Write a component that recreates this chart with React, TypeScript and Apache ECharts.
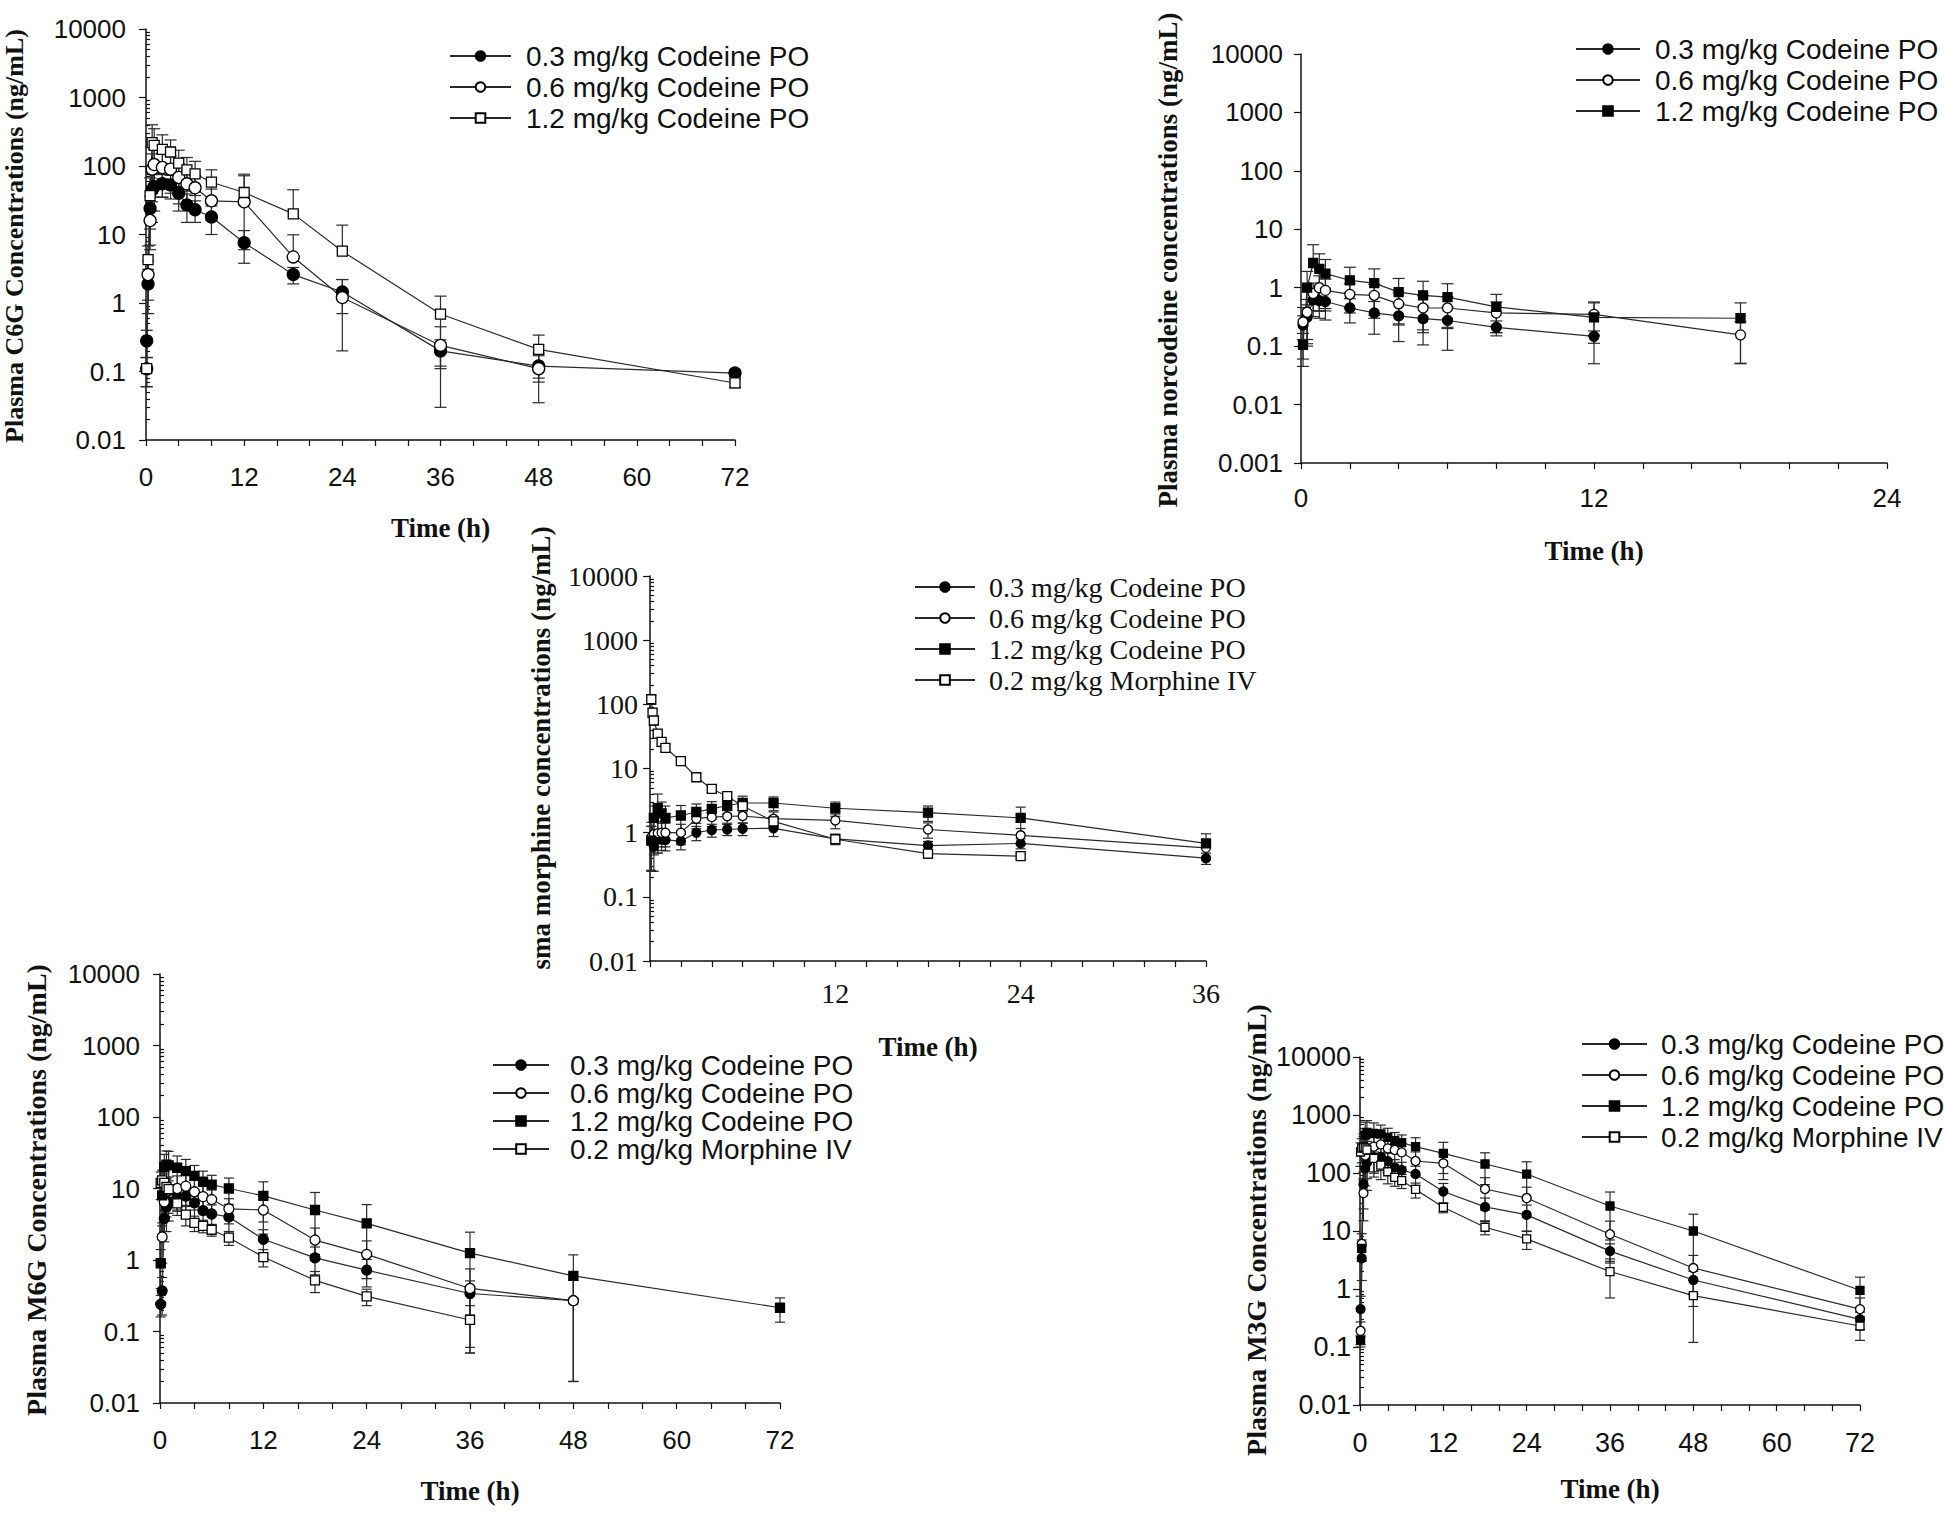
import React, { useEffect, useRef } from "react";
import * as echarts from "echarts";

// ---------------- DATA ----------------
// Panel A: C6G
const C6G_TIME = [0.083, 0.25, 0.5, 0.75, 1, 2, 3, 4, 5, 6, 8, 12, 18, 24, 36, 48, 72];
const C6G_TIME_06 = [0.083, 0.25, 0.5, 0.75, 1, 2, 3, 4, 5, 6, 8, 12, 18, 24, 36, 48];
const C6G_03 = [0.28, 1.9, 24, 45, 50, 55, 53, 40, 27, 23, 18, 7.6, 2.6, 1.45, 0.2, 0.12, 0.095];
const C6G_03_SD = [0.12, 1.2, 12, 30, 28, 20, 20, 18, 12, 8, 8, 3.8, 0.7, 0.75, 0.09, 0.05, 0.01];
const C6G_06 = [0.11, 2.6, 16, 90, 105, 95, 90, 68, 55, 48, 31, 30, 4.7, 1.2, 0.24, 0.11];
const C6G_06_SD = [0.05, 1.5, 10, 60, 70, 60, 50, 40, 30, 25, 15, 42, 5.2, 1.0, 0.21, 0.075];
const C6G_12 = [0.11, 4.3, 37, 220, 200, 175, 160, 110, 88, 77, 58, 41, 20, 5.7, 0.69, 0.21, 0.068];
const C6G_12_SD = [0.05, 2.5, 30, 180, 150, 110, 80, 60, 45, 40, 30, 35, 25, 8, 0.57, 0.13, 0.01];

// Panel B: norcodeine
const NOR_TIME_03 = [0.083, 0.25, 0.5, 0.75, 1, 2, 3, 4, 5, 6, 8, 12];
const NOR_TIME = [0.083, 0.25, 0.5, 0.75, 1, 2, 3, 4, 5, 6, 8, 12, 18];
const NOR_03 = [0.23, 0.31, 0.62, 0.6, 0.58, 0.45, 0.37, 0.33, 0.295, 0.275, 0.21, 0.147];
const NOR_03_SD = [0.1, 0.2, 0.3, 0.3, 0.3, 0.2, 0.21, 0.21, 0.19, 0.19, 0.06, 0.035];
const NOR_06 = [0.26, 0.38, 0.8, 1.0, 0.9, 0.77, 0.74, 0.53, 0.45, 0.45, 0.37, 0.35, 0.156];
const NOR_06_SD = [0.2, 0.25, 0.4, 0.6, 0.5, 0.4, 0.4, 0.3, 0.28, 0.25, 0.2, 0.2, 0.105];
const NOR_12 = [0.105, 1.0, 2.65, 2.1, 1.74, 1.34, 1.2, 0.84, 0.74, 0.69, 0.47, 0.31, 0.3];
const NOR_12_SD = [0.06, 0.9, 2.8, 1.7, 1.3, 0.9, 0.9, 0.6, 0.55, 0.48, 0.3, 0.26, 0.25];

// Panel C: morphine
const MOR_TIME = [0.083, 0.25, 0.5, 0.75, 1, 2, 3, 4, 5, 6, 8, 12, 18, 24, 36];
const MOR_IV_TIME = [0.083, 0.167, 0.25, 0.5, 0.75, 1, 2, 3, 4, 5, 6, 8, 12, 18, 24];
const MOR_03 = [0.76, 0.6, 0.78, 0.78, 0.77, 0.74, 1.0, 1.1, 1.12, 1.15, 1.17, 0.8, 0.63, 0.68, 0.4];
const MOR_03_SD = [0.5, 0.35, 0.3, 0.25, 0.25, 0.2, 0.25, 0.25, 0.22, 0.25, 0.3, 0.15, 0.1, 0.12, 0.08];
const MOR_06 = [0.85, 0.95, 0.98, 1.0, 1.0, 1.0, 1.65, 1.75, 1.8, 1.82, 1.65, 1.55, 1.12, 0.91, 0.58];
const MOR_06_SD = [0.6, 0.5, 0.5, 0.4, 0.4, 0.35, 0.5, 0.5, 0.4, 0.4, 0.45, 0.4, 0.3, 0.25, 0.2];
const MOR_12 = [0.75, 1.7, 2.4, 2.0, 1.7, 1.85, 2.1, 2.35, 2.65, 2.9, 2.9, 2.4, 2.05, 1.7, 0.68];
const MOR_12_SD = [0.5, 0.9, 1.6, 1.0, 0.9, 0.8, 0.7, 0.7, 0.7, 0.8, 0.7, 0.6, 0.55, 0.8, 0.28];
const MOR_IV = [120, 74, 56, 35, 26, 21, 13, 7.3, 4.8, 3.7, 2.6, 1.5, 0.79, 0.47, 0.43];
const MOR_IV_SD = [20, 12, 8, 5, 4, 3, 1.5, 0.9, 0.6, 0.45, 0.35, 0.25, 0.1, 0.07, 0.04];

// Panel D: M6G
const M6G_TIME = [0.083, 0.25, 0.5, 0.75, 1, 2, 3, 4, 5, 6, 8, 12, 18, 24, 36, 48, 72];
const M6G_TIME_03 = [0.083, 0.25, 0.5, 0.75, 1, 2, 3, 4, 5, 6, 8, 12, 18, 24, 36, 48];
const M6G_TIME_06 = [0.25, 0.5, 0.75, 1, 2, 3, 4, 5, 6, 8, 12, 18, 24, 36, 48];
const M6G_TIME_IV = [0.083, 0.25, 0.5, 0.75, 1, 2, 3, 4, 5, 6, 8, 12, 18, 24, 36];
const M6G_03 = [0.24, 0.37, 3.8, 5.5, 6.5, 7.8, 7.8, 6.3, 4.9, 4.4, 4.0, 1.95, 1.07, 0.72, 0.34, 0.27];
const M6G_03_SD = [0.08, 0.2, 2, 3, 3, 3, 3, 2.5, 2, 1.5, 1.5, 0.7, 0.45, 0.3, 0.17, 0.25];
const M6G_06 = [2.1, 6.5, 9, 9.5, 10, 10.8, 9, 7.7, 7, 5.2, 5.0, 1.9, 1.2, 0.4, 0.27];
const M6G_06_SD = [1.2, 4, 5, 5, 5, 5, 4, 3, 2.5, 2, 2.7, 0.9, 0.65, 0.35, 0.25];
const M6G_12 = [0.9, 8, 20, 21.5, 21, 19.5, 17.5, 15, 12.5, 11.3, 10, 7.9, 5.0, 3.25, 1.25, 0.6, 0.215];
const M6G_12_SD = [0.5, 5, 10, 12, 12, 9, 8, 6, 5, 4, 4, 4.5, 3.8, 2.7, 1.2, 0.58, 0.08];
const M6G_IV = [12, 13, 12, 10.5, 9.8, 6.2, 4.3, 3.3, 3.0, 2.65, 2.05, 1.1, 0.52, 0.31, 0.145];
const M6G_IV_SD = [5, 5, 4, 3, 3, 2, 1.3, 0.8, 0.6, 0.5, 0.45, 0.3, 0.17, 0.08, 0.085];

// Panel E: M3G
const M3G_TIME = [0.083, 0.25, 0.5, 0.75, 1, 2, 3, 4, 5, 6, 8, 12, 18, 24, 36, 48, 72];
const M3G_03 = [0.45, 3.4, 64, 120, 150, 185, 190, 160, 125, 113, 96, 48, 26, 19, 4.5, 1.43, 0.3];
const M3G_03_SD = [0.3, 2, 40, 60, 70, 80, 80, 60, 45, 40, 35, 18, 11, 9, 1.5, 0.6, 0.1];
const M3G_06 = [0.19, 6, 45, 200, 250, 285, 312, 266, 250, 227, 161, 147, 53, 37, 8.8, 2.3, 0.45];
const M3G_06_SD = [0.08, 3, 30, 150, 200, 200, 180, 150, 120, 100, 70, 70, 30, 20, 6, 1.5, 0.25];
const M3G_12 = [0.13, 5, 280, 450, 500, 480, 470, 410, 360, 333, 285, 218, 143, 96, 27, 10, 0.95];
const M3G_12_SD = [0.03, 2, 200, 300, 300, 250, 200, 180, 140, 120, 120, 120, 80, 60, 20, 9.5, 0.65];
const M3G_IV = [230, 270, 280, 270, 250, 179, 137, 105, 84, 74, 52, 25.6, 11.6, 7.3, 2.0, 0.77, 0.23];
const M3G_IV_SD = [100, 120, 150, 120, 100, 80, 60, 40, 25, 20, 15, 5, 3, 2.5, 1.3, 0.65, 0.1];

const N03 = "0.3 mg/kg Codeine PO";
const N06 = "0.6 mg/kg Codeine PO";
const N12 = "1.2 mg/kg Codeine PO";
const NIV = "0.2 mg/kg Morphine IV";

const Y_TITLES = [
  "Plasma C6G Concentrations (ng/mL)",
  "Plasma norcodeine concentrations (ng/mL)",
  "sma morphine concentrations (ng/mL)",
  "Plasma M6G Concentrations (ng/mL)",
  "Plasma M3G Concentrations (ng/mL)",
];
const X_TITLE = "Time (h)";

// ---------------- STYLE / LAYOUT ----------------
const SANS = "'Liberation Sans', Arial, sans-serif";
const SERIF = "'Liberation Serif', 'Times New Roman', serif";
const INK = "#111";
const LINE = "#2a2a2a";

const PANELS = [
  { grid: { left: 146, top: 29, width: 589, height: 411 }, ymin: 0.01, ymax: 10000, xmax: 72, xint: 4, minor: true, font: SANS, tick: 26, yMargin: 20, xMargin: 24, nameGap: 74, hideZero: false, circle: 12, square: 10, cap: 12,
    legend: { left: 449, top: 42, w: 61, gap: 3, pad: 10, font: 28 }, title: { x: 14, y: 236, size: 26 } },
  { grid: { left: 1301, top: 54, width: 586, height: 409 }, ymin: 0.001, ymax: 10000, xmax: 24, xint: 2, minor: false, font: SANS, tick: 26, yMargin: 18, xMargin: 22, nameGap: 74, hideZero: false, circle: 10, square: 9, cap: 12,
    legend: { left: 1575, top: 35, w: 64, gap: 3, pad: 10, font: 28 }, title: { x: 1168, y: 260, size: 27 } },
  { grid: { left: 650, top: 576, width: 556, height: 385 }, ymin: 0.01, ymax: 10000, xmax: 36, xint: 2, minor: true, font: SERIF, tick: 28, yMargin: 12, xMargin: 18, nameGap: 72, hideZero: true, circle: 9, square: 9, cap: 10,
    legend: { left: 914, top: 573, w: 60, gap: 3, pad: 9, font: 28 }, title: { x: 541, y: 748, size: 27 } },
  { grid: { left: 160, top: 974, width: 620, height: 429 }, ymin: 0.01, ymax: 10000, xmax: 72, xint: 4, minor: true, font: SANS, tick: 26, yMargin: 20, xMargin: 24, nameGap: 74, hideZero: false, circle: 10, square: 9, cap: 10,
    legend: { left: 492, top: 1051, w: 56, gap: 0, pad: 16, font: 28 }, title: { x: 36, y: 1190, size: 28 } },
  { grid: { left: 1360, top: 1057, width: 500, height: 348 }, ymin: 0.01, ymax: 10000, xmax: 72, xint: 4, minor: true, font: SANS, tick: 27, yMargin: 9, xMargin: 24, nameGap: 70, hideZero: false, circle: 9, square: 8, cap: 10,
    legend: { left: 1581, top: 1030, w: 65, gap: 3, pad: 9, font: 28 }, title: { x: 1256, y: 1230, size: 28 } },
];

const SERIES_DEFS = [
  { panel: 0, name: N03, t: C6G_TIME, v: C6G_03, sd: C6G_03_SD, sym: "circle", fill: true },
  { panel: 0, name: N06, t: C6G_TIME_06, v: C6G_06, sd: C6G_06_SD, sym: "circle", fill: false },
  { panel: 0, name: N12, t: C6G_TIME, v: C6G_12, sd: C6G_12_SD, sym: "rect", fill: false },

  { panel: 1, name: N03, t: NOR_TIME_03, v: NOR_03, sd: NOR_03_SD, sym: "circle", fill: true },
  { panel: 1, name: N06, t: NOR_TIME, v: NOR_06, sd: NOR_06_SD, sym: "circle", fill: false },
  { panel: 1, name: N12, t: NOR_TIME, v: NOR_12, sd: NOR_12_SD, sym: "rect", fill: true },

  { panel: 2, name: N03, t: MOR_TIME, v: MOR_03, sd: MOR_03_SD, sym: "circle", fill: true },
  { panel: 2, name: N06, t: MOR_TIME, v: MOR_06, sd: MOR_06_SD, sym: "circle", fill: false },
  { panel: 2, name: N12, t: MOR_TIME, v: MOR_12, sd: MOR_12_SD, sym: "rect", fill: true },
  { panel: 2, name: NIV, t: MOR_IV_TIME, v: MOR_IV, sd: MOR_IV_SD, sym: "rect", fill: false },

  { panel: 3, name: N03, t: M6G_TIME_03, v: M6G_03, sd: M6G_03_SD, sym: "circle", fill: true },
  { panel: 3, name: N06, t: M6G_TIME_06, v: M6G_06, sd: M6G_06_SD, sym: "circle", fill: false },
  { panel: 3, name: N12, t: M6G_TIME, v: M6G_12, sd: M6G_12_SD, sym: "rect", fill: true },
  { panel: 3, name: NIV, t: M6G_TIME_IV, v: M6G_IV, sd: M6G_IV_SD, sym: "rect", fill: false },

  { panel: 4, name: N03, t: M3G_TIME, v: M3G_03, sd: M3G_03_SD, sym: "circle", fill: true },
  { panel: 4, name: N06, t: M3G_TIME, v: M3G_06, sd: M3G_06_SD, sym: "circle", fill: false },
  { panel: 4, name: N12, t: M3G_TIME, v: M3G_12, sd: M3G_12_SD, sym: "rect", fill: true },
  { panel: 4, name: NIV, t: M3G_TIME, v: M3G_IV, sd: M3G_IV_SD, sym: "rect", fill: false },
];

function decades(min: number, max: number) {
  const out: number[] = [];
  for (let e = Math.round(Math.log10(min)); e <= Math.round(Math.log10(max)); e++) out.push(Math.pow(10, e));
  return out;
}
function minors(min: number, max: number) {
  const out: number[] = [];
  const ds = decades(min, max);
  for (let i = 0; i < ds.length - 1; i++) for (let k = 2; k <= 9; k++) out.push(+(k * ds[i]).toPrecision(3));
  return out;
}
function fmtLog(v: number) {
  const e = Math.round(Math.log10(v));
  return e >= 0 ? String(Math.pow(10, e)) : Math.pow(10, e).toFixed(-e);
}

function buildOption() {
  const grid: any[] = [];
  const xAxis: any[] = [];
  const yAxis: any[] = [];
  const series: any[] = [];
  const legend: any[] = [];
  const graphic: any[] = [];
  const axisLineStyle = { color: INK, width: 1.5 };
  const tickStyle = { color: INK, width: 1.2 };

  PANELS.forEach((p, i) => {
    grid.push({ ...p.grid, containLabel: false });
    xAxis.push({
      type: "value", gridIndex: i, min: 0, max: p.xmax, interval: p.xint,
      name: X_TITLE, nameLocation: "middle", nameGap: p.nameGap,
      nameTextStyle: { fontFamily: SERIF, fontWeight: "bold", fontSize: 27, color: INK },
      axisLine: { show: true, onZero: false, lineStyle: axisLineStyle },
      axisTick: { show: true, length: 6, lineStyle: tickStyle },
      axisLabel: {
        margin: p.xMargin, fontFamily: p.font, fontSize: p.tick, color: INK,
        formatter: (v: number) => (v % 12 === 0 && !(p.hideZero && v === 0) ? String(v) : ""),
      },
      splitLine: { show: false },
    });
    const ds = decades(p.ymin, p.ymax);
    yAxis.push({
      type: "log", logBase: 10, gridIndex: i, min: p.ymin, max: p.ymax,
      axisLine: { show: true, onZero: false, lineStyle: axisLineStyle },
      axisTick: { show: true, length: 7, customValues: ds, lineStyle: tickStyle },
      axisLabel: { customValues: ds, formatter: fmtLog, margin: p.yMargin, fontFamily: p.font, fontSize: p.tick, color: INK },
      splitLine: { show: false },
      minorTick: { show: false },
    });
    const names: string[] = [];
    SERIES_DEFS.forEach((d) => { if (d.panel === i) names.push(d.name + "#" + i); });
    legend.push({
      show: true, orient: "vertical", left: p.legend.left, top: p.legend.top,
      itemWidth: p.legend.w, itemHeight: 12, itemGap: p.legend.gap, padding: 0,
      data: names, selectedMode: false,
      formatter: (n: string) => n.split("#")[0],
      textStyle: { fontFamily: p.font, fontSize: p.legend.font, color: INK, padding: [0, 0, 0, p.legend.pad] },
    });
    graphic.push({
      type: "text", x: p.title.x, y: p.title.y, rotation: Math.PI / 2,
      style: {
        text: Y_TITLES[i], fill: INK, textAlign: "center", textVerticalAlign: "middle",
        font: `bold ${p.title.size}px ${SERIF}`,
      },
    });
  });
  PANELS.forEach((p, i) => {
    if (!p.minor) return;
    yAxis.push({
      type: "log", logBase: 10, gridIndex: i, min: p.ymin, max: p.ymax,
      axisLine: { show: false }, axisLabel: { show: false }, splitLine: { show: false },
      axisTick: { show: true, length: 4, customValues: minors(p.ymin, p.ymax), lineStyle: tickStyle },
    });
  });

  SERIES_DEFS.forEach((d) => {
    const p = PANELS[d.panel];
    const size = d.sym === "circle" ? p.circle : p.square;
    const cap = p.cap;
    series.push({
      type: "custom", xAxisIndex: d.panel, yAxisIndex: d.panel, silent: true, z: 1,
      data: d.t.map((t, k) => {
        const m = d.v[k], s = d.sd[k];
        const hi = Math.min(m + s, p.ymax);
        const lo = m - s;
        const okLo = lo > p.ymin;
        return [t, okLo ? lo : m, hi, okLo ? 1 : 0];
      }),
      renderItem: (_params: any, api: any) => {
        const t = api.value(0), lo = api.value(1), hi = api.value(2), hasLo = api.value(3);
        const a = api.coord([t, hi]);
        const b = api.coord([t, lo]);
        const st = { stroke: LINE, lineWidth: 1.2 };
        const w = cap / 2;
        const children: any[] = [
          { type: "line", shape: { x1: a[0], y1: a[1], x2: b[0], y2: b[1] }, style: st },
          { type: "line", shape: { x1: a[0] - w, y1: a[1], x2: a[0] + w, y2: a[1] }, style: st },
        ];
        if (hasLo) children.push({ type: "line", shape: { x1: b[0] - w, y1: b[1], x2: b[0] + w, y2: b[1] }, style: st });
        return { type: "group", children };
      },
    });
    series.push({
      type: "line", name: d.name + "#" + d.panel, xAxisIndex: d.panel, yAxisIndex: d.panel, z: 3,
      data: d.t.map((t, k) => [t, d.v[k]]),
      symbol: d.sym, symbolSize: size, showSymbol: true, showAllSymbol: true,
      lineStyle: { color: LINE, width: 1.2 },
      itemStyle: { color: d.fill ? "#000" : "#fff", borderColor: "#000", borderWidth: 1.3 },
      emphasis: { disabled: true },
    });
  });

  return {
    animation: false,
    backgroundColor: "#fff",
    grid, xAxis, yAxis, series, legend, graphic,
  };
}

export default function App() {
  const ref = useRef<HTMLDivElement>(null);
  useEffect(() => {
    const chart = echarts.init(ref.current as HTMLDivElement, null, { renderer: "svg" });
    chart.setOption(buildOption() as any);
    return () => chart.dispose();
  }, []);
  return (
    <div
      ref={ref}
      style={{ position: "fixed", left: 0, top: 0, width: 1944, height: 1515, background: "#fff" }}
    />
  );
}
